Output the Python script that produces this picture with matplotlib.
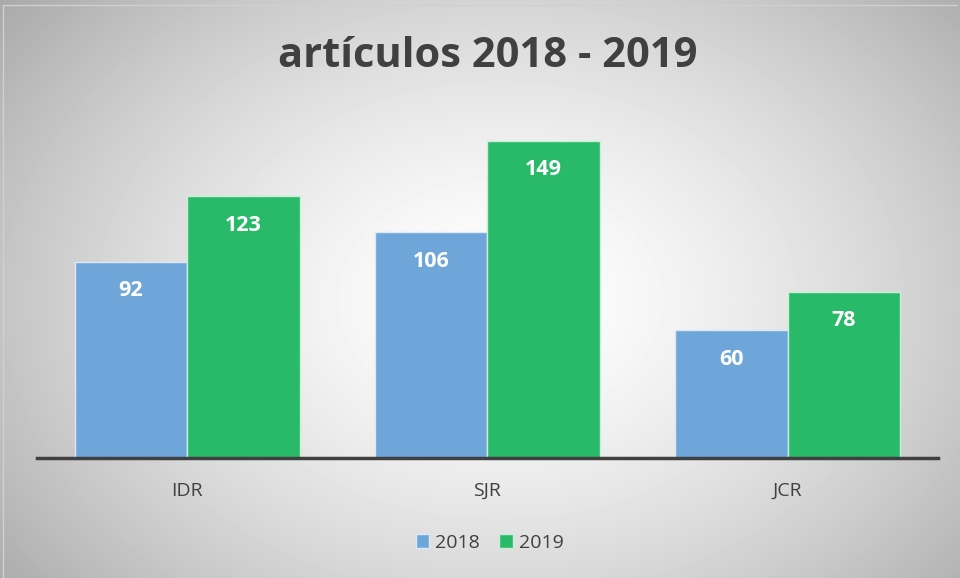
import numpy as np
import matplotlib.pyplot as plt
from matplotlib.patches import Patch

categories = ['IDR', 'SJR', 'JCR']
years = ['2018', '2019']
vals_2018 = [92, 106, 60]
vals_2019 = [123, 149, 78]
colors = ['#6fa6d9', '#28ba69']

plt.rcParams['font.family'] = ['Open Sans', 'DejaVu Sans']

fig = plt.figure(figsize=(9.6, 5.78), dpi=100)

# radial gradient background
bg = fig.add_axes([0, 0, 1, 1])
yy, xx = np.mgrid[0:578, 0:960]
r = np.sqrt(((xx - 500) / 540.0) ** 2 + ((yy - 300) / 400.0) ** 2)
shade = 1.0 - 0.26 * np.clip(r, 0, 1.25) ** 1.5
bg.imshow(shade, cmap='gray', vmin=0, vmax=1, aspect='auto', extent=[0, 1, 0, 1])
bg.plot([0.003, 0.003, 0.997], [0, 0.992, 0.992], color='#d0d0d0', lw=1)
bg.set_xlim(0, 1)
bg.set_ylim(0, 1)
bg.axis('off')

ax = fig.add_axes([0.0385, 0.2076, 0.9385, 0.589])
ax.patch.set_alpha(0)
x = np.arange(len(categories))
w = 0.375
b1 = ax.bar(x - w / 2, vals_2018, w, color=colors[0], edgecolor='#dce9f5', linewidth=1)
b2 = ax.bar(x + w / 2, vals_2019, w, color=colors[1], edgecolor='#c8eed8', linewidth=1)

for bars in (b1, b2):
    for b in bars:
        ax.text(b.get_x() + b.get_width() / 2, b.get_height() - 13.5, str(int(b.get_height())),
                ha='center', va='center', color='white', fontsize=15.5, fontweight='bold')

ax.set_xlim(-0.5, 2.5)
ax.set_ylim(0, 160)
for s in ['top', 'right', 'left']:
    ax.spines[s].set_visible(False)
ax.spines['bottom'].set_color('#404040')
ax.spines['bottom'].set_linewidth(2.5)
ax.set_yticks([])
ax.set_xticks(x)
ax.set_xticklabels(categories, fontsize=14, color='#404040')
ax.tick_params(axis='x', length=0, pad=17)

fig.text(0.508, 0.903, 'artículos 2018 - 2019', ha='center', va='center',
         fontsize=30, fontweight='bold', color='#404040')

handles = [Patch(facecolor=colors[0], edgecolor='#dce9f5'), Patch(facecolor=colors[1], edgecolor='#c8eed8')]
fig.legend(handles, years, loc='center', bbox_to_anchor=(0.51, 0.061), ncol=2, frameon=False,
           fontsize=14, handlelength=0.7, handleheight=0.7, handletextpad=0.3, columnspacing=1.0,
           labelcolor='#404040')

fig.savefig('out.png', dpi=100)
